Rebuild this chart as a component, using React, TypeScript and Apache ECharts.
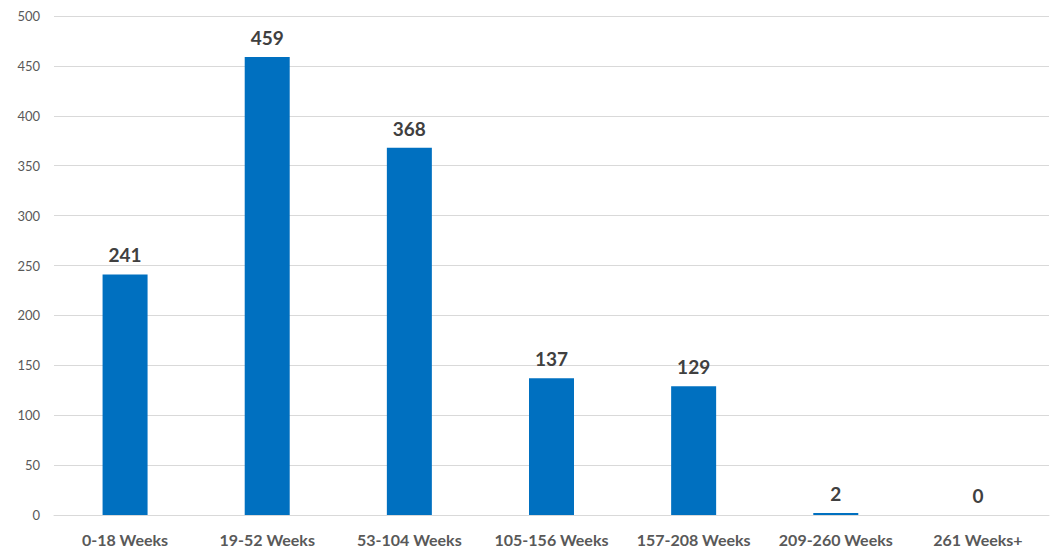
import React, { useEffect, useRef } from "react";
import * as echarts from "echarts";

const categories = [
  "0-18 Weeks",
  "19-52 Weeks",
  "53-104 Weeks",
  "105-156 Weeks",
  "157-208 Weeks",
  "209-260 Weeks",
  "261 Weeks+",
];
const counts = [241, 459, 368, 137, 129, 2, 0];

export default function App() {
  const ref = useRef<HTMLDivElement>(null);

  useEffect(() => {
    if (!ref.current) return;
    const chart = echarts.init(ref.current, null, { renderer: "svg" });
    chart.setOption({
      animation: false,
      grid: { left: 54, right: 9, top: 16, bottom: 35, containLabel: false },
      xAxis: {
        type: "category",
        data: categories,
        axisLine: { show: true, lineStyle: { color: "#d9d9d9", width: 1 } },
        axisTick: { show: false },
        axisLabel: {
          interval: 0,
          color: "#595959",
          fontFamily: "Lato, 'Open Sans', sans-serif",
          fontWeight: "bold",
          fontSize: 16,
          margin: 16,
        },
      },
      yAxis: {
        type: "value",
        min: 0,
        max: 500,
        interval: 50,
        axisLine: { show: false },
        axisTick: { show: false },
        splitLine: { lineStyle: { color: "#d9d9d9", width: 1 } },
        axisLabel: {
          color: "#595959",
          fontFamily: "Lato, 'Open Sans', sans-serif",
          fontSize: 13,
          margin: 14,
        },
      },
      series: [
        {
          type: "bar",
          data: counts,
          barWidth: 45,
          itemStyle: { color: "#0070C0" },
          label: {
            show: true,
            position: "top",
            distance: 10,
            color: "#404040",
            fontFamily: "Lato, 'Open Sans', sans-serif",
            fontWeight: "bold",
            fontSize: 19,
          },
        },
      ],
    });
    return () => chart.dispose();
  }, []);

  return (
    <div
      ref={ref}
      style={{ position: "fixed", left: 0, top: 0, width: 1058, height: 550, background: "#fff" }}
    />
  );
}
